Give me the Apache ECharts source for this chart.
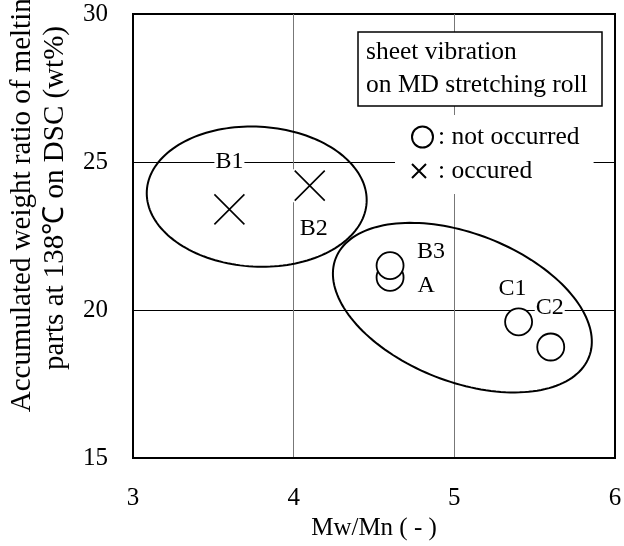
<!DOCTYPE html>
<html><head><meta charset="utf-8">
<script src="https://cdn.jsdelivr.net/npm/echarts@6/dist/echarts.min.js"></script>
<style>html,body{margin:0;padding:0;background:#fff}#c{width:624px;height:546px}</style>
</head><body><div id="c"></div>
<script>
// ---- data ----
const xTicks = [3, 4, 5, 6];
const yTicks = [15, 20, 25, 30];
const notOccurredNames = ['A', 'B3', 'C1', 'C2'];
const notOccurredX = [4.6, 4.6, 5.4, 5.6];
const notOccurredY = [21.1, 21.5, 19.6, 18.75];
const occurredNames = ['B1', 'B2'];
const occurredX = [3.6, 4.1];
const occurredY = [23.4, 24.2];
// group ellipses: centre and semi-axes in data units, tilt in degrees
const groupCX = [3.77, 5.05];
const groupCY = [23.83, 20.08];
const groupRX = [0.685, 0.846];
const groupRY = [2.365, 2.5];
const groupTilt = [3, 21.3];

// ---- styling / layout ----
const FONT = 'Liberation Serif';
const labelOffset = {A:[36,8], B3:[41,-14], C1:[-6,-33], C2:[-1,-39], B1:[0,-48], B2:[4,43]};
const labelStyle = {show:true, position:'inside', formatter:'{b}', color:'#000', textBorderWidth:0, fontSize:24, fontFamily:FONT, backgroundColor:'#fff', padding:[0,1]};

const chart = echarts.init(document.getElementById('c'), null, {renderer:'canvas'});
chart.setOption({
  animation:false,
  backgroundColor:'#fff',
  grid:{left:133, right:9, top:14, bottom:88, outerBoundsMode:'none', containLabel:false, show:true, borderColor:'#000', borderWidth:2, backgroundColor:'transparent'},
  xAxis:{
    type:'value', min:xTicks[0], max:xTicks[xTicks.length-1], interval:xTicks[1]-xTicks[0],
    axisLine:{show:true, onZero:false, lineStyle:{color:'#000', width:2}},
    axisTick:{show:false},
    axisLabel:{margin:28, fontSize:25, fontFamily:FONT, color:'#000'},
    splitLine:{show:true, showMinLine:false, showMaxLine:false, lineStyle:{color:'#777', width:1}},
    name:'Mw/Mn ( - )', nameLocation:'middle', nameGap:56,
    nameTextStyle:{fontSize:25, fontFamily:FONT, color:'#000'}
  },
  yAxis:{
    type:'value', min:yTicks[0], max:yTicks[yTicks.length-1], interval:yTicks[1]-yTicks[0],
    axisLine:{show:true, onZero:false, lineStyle:{color:'#000', width:2}},
    axisTick:{show:false},
    axisLabel:{margin:25, fontSize:25, fontFamily:FONT, color:'#000'},
    splitLine:{show:true, showMinLine:false, showMaxLine:false, lineStyle:{color:'#000', width:1}},
    name:'Accumulated weight ratio of melting\nparts at 138℃ on DSC (wt%)',
    nameLocation:'middle', nameGap:60, nameRotate:90,
    nameTextStyle:{fontSize:29, lineHeight:33, fontFamily:FONT, color:'#000', padding:[0,0,0,76]}
  },
  legend:{
    left:395, top:115, orient:'vertical', backgroundColor:'#fff', padding:[9,14,10,16],
    itemWidth:21, itemHeight:21, itemGap:8, selectedMode:false,
    textStyle:{fontSize:25.5, fontFamily:FONT, color:'#000'},
    formatter:n => ': ' + n,
    data:[
      {name:'not occurred', icon:'circle'},
      {name:'occured', icon:'path://M0,0M0,3.5L14,17.5M14,3.5L0,17.5M21,21'}
    ]
  },
  graphic:[
    {type:'rect', z:100, shape:{x:358, y:32, width:244, height:74}, style:{fill:'#fff', stroke:'#000', lineWidth:1.5}},
    {type:'text', z:101, x:366, y:52, style:{text:'sheet vibration', fontSize:25.5, fontFamily:FONT, fill:'#000', verticalAlign:'middle'}},
    {type:'text', z:101, x:366, y:85, style:{text:'on MD stretching roll', fontSize:25.5, fontFamily:FONT, fill:'#000', verticalAlign:'middle'}}
  ],
  series:[
    {
      type:'custom', coordinateSystem:'cartesian2d', silent:true, z:2, clip:false,
      data: groupCX.map((x,i)=>[x, groupCY[i], groupRX[i], groupRY[i], groupTilt[i]]),
      renderItem:(params, api) => {
        const c = api.coord([api.value(0), api.value(1)]);
        const s = api.size([api.value(2), api.value(3)]);
        const th = api.value(4) * Math.PI / 180;
        const pts = [];
        for (let k = 0; k <= 160; k++) {
          const t = 2 * Math.PI * k / 160;
          const ex = s[0] * Math.cos(t), ey = s[1] * Math.sin(t);
          pts.push([c[0] + ex*Math.cos(th) - ey*Math.sin(th), c[1] + ex*Math.sin(th) + ey*Math.cos(th)]);
        }
        return {type:'polygon', shape:{points:pts}, style:{fill:'none', stroke:'#000', lineWidth:2}};
      }
    },
    {
      type:'scatter', silent:true, z:3, symbol:'rect', symbolSize:[34,33],
      itemStyle:{color:'#fff', opacity:1},
      data: occurredX.map((x,i)=>[x, occurredY[i]])
    },
    {
      name:'occured', type:'scatter', z:4, symbol:'path://M0,0L10,10M10,0L0,10', symbolSize:30,
      itemStyle:{color:'#000', borderColor:'#000', borderWidth:1.6, opacity:1},
      label:labelStyle,
      data: occurredNames.map((n,i)=>({name:n, value:[occurredX[i], occurredY[i]], label:{offset:labelOffset[n]}}))
    },
    {
      name:'not occurred', type:'scatter', z:4, symbol:'circle', symbolSize:27,
      itemStyle:{color:'#fff', borderColor:'#000', borderWidth:1.8, opacity:1},
      label:labelStyle,
      data: notOccurredNames.map((n,i)=>({name:n, value:[notOccurredX[i], notOccurredY[i]], label:{offset:labelOffset[n]}}))
    }
  ]
});
</script></body></html>
